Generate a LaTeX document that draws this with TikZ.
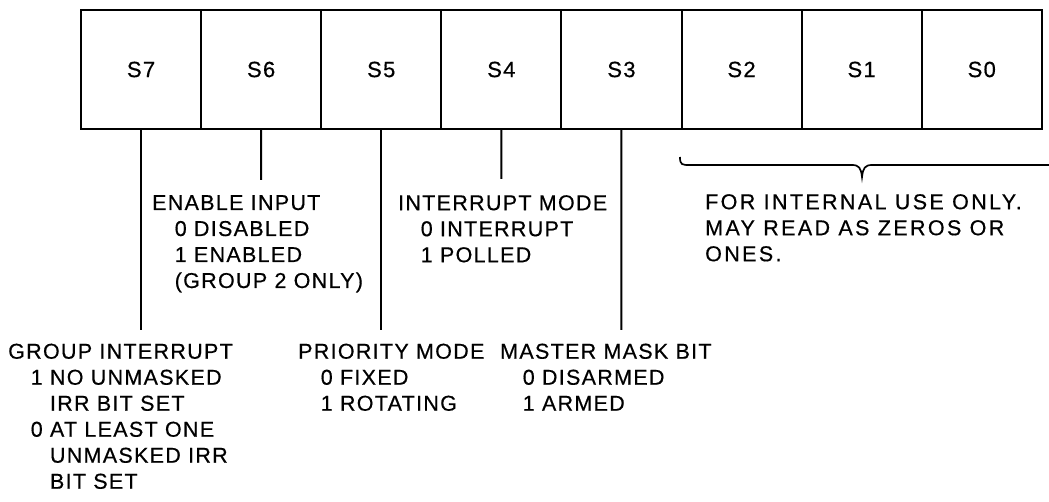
\documentclass[tikz,border=0pt]{standalone}
\usepackage{fontspec}
\newfontfamily\labfont[LetterSpace=6,FakeBold=0.5]{Liberation Sans}
\newfontfamily\notefont[LetterSpace=11,FakeBold=0.5]{Liberation Sans}
\newcommand{\ind}{\hspace*{1.05em}}
\newcommand{\cnt}{\hspace*{1.05em}\phantom{0 }}
\tikzset{
  cell/.style={draw, line width=2pt, minimum width=120.1pt, minimum height=119pt,
    inner sep=0pt, font=\labfont\fontsize{22}{26}\selectfont},
  leader/.style={line width=2pt},
  note/.style={anchor=north west, inner sep=0pt, align=left,
    font=\labfont\fontsize{21.5}{26}\selectfont}
}
\begin{document}
\begin{tikzpicture}[x=1pt,y=-1pt]
    \useasboundingbox (0,0) rectangle (1049,502);

    % status register
    \foreach \n [count=\i from 0] in {7,6,5,4,3,2,1,0}
        \node[cell] (s\n) at (141.05+120.1*\i,69.5) {S\n};

    \coordinate (e7) at (141.05,330);
    \coordinate (e6) at (261.15,180);
    \coordinate (e5) at (381.25,330);
    \coordinate (e4) at (501.35,179);
    \coordinate (e3) at (621.45,330);

    \draw[leader] (s7.south) -- (e7);
    \draw[leader] (s6.south) -- (e6);
    \draw[leader] (s5.south) -- (e5);
    \draw[leader] (s4.south) -- (e4);
    \draw[leader] (s3.south) -- (e3);

    \draw[leader, line width=1.7pt] (680,157) .. controls (680,165) and (682,165) .. (690,165)
        -- (852,165) .. controls (859,165) and (861,168) .. (862,177)
        .. controls (863,168) and (865,165) .. (872,165) -- (1049,165);

    % bit descriptions
    \node[note] (enable) at (152,195) {ENABLE INPUT\\ \ind 0 DISABLED\\ \ind 1 ENABLED\\ \ind (GROUP 2 ONLY)};
    \node[note] (intmode) at (398,195) {INTERRUPT MODE\\ \ind 0 INTERRUPT\\ \ind 1 POLLED};
    \node[note, font=\notefont\fontsize{21.5}{26}\selectfont] (internal) at (705,194)
        {FOR INTERNAL USE ONLY.\\MAY READ AS ZEROS OR\\ONES.};
    \node[note] (group) at (8,343.5) {GROUP INTERRUPT\\ \ind 1 NO UNMASKED\\ \cnt IRR BIT SET\\
        \ind 0 AT LEAST ONE\\ \cnt UNMASKED IRR\\ \cnt BIT SET};
    \node[note] (priority) at (298,343.5) {PRIORITY MODE\\ \ind 0 FIXED\\ \ind 1 ROTATING};
    \node[note] (master) at (500,343.5) {MASTER MASK BIT\\ \ind 0 DISARMED\\ \ind 1 ARMED};
\end{tikzpicture}
\end{document}
